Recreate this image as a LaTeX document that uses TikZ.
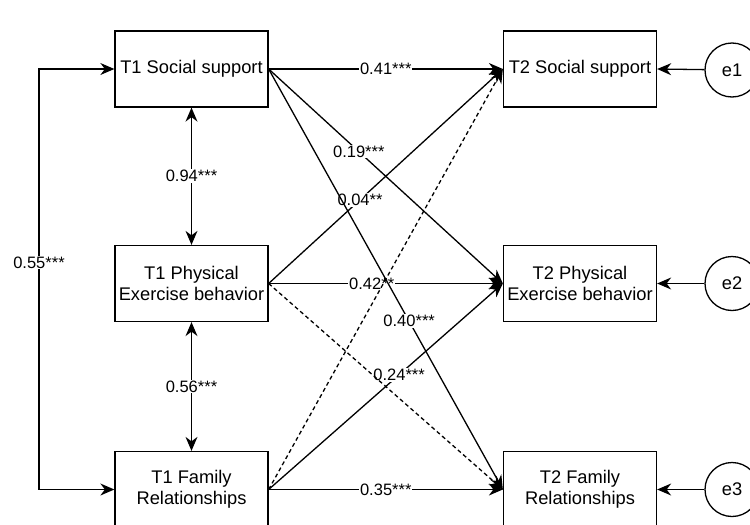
\documentclass[tikz,border=0pt]{standalone}
\usepackage{fontspec}
\setmainfont{Liberation Sans}
\usetikzlibrary{arrows.meta}
\begin{document}
\begin{tikzpicture}[x=1pt,y=-1pt,
  line width=1.3pt,
  var/.style={draw, rectangle, minimum width=153pt, minimum height=76pt, inner sep=0pt,
    align=center, font=\fontsize{18.3}{21}\selectfont},
  err/.style={draw, circle, minimum size=54pt, inner sep=0pt, font=\fontsize{18.3}{21}\selectfont},
  tip/.style={Stealth[length=14pt,width=12pt,inset=4.5pt]},
  path/.style={-{Stealth[length=14pt,width=12pt,inset=4.5pt]}},
  cov/.style={{Stealth[length=14pt,width=12pt,inset=4.5pt]}-{Stealth[length=14pt,width=12pt,inset=4.5pt]}},
  ns/.style={path, dash pattern=on 4pt off 3pt},
  coef/.style={fill=white, inner sep=1pt, font=\fontsize{16.5}{18}\selectfont}]
\clip (0,0) rectangle (750,525);
\fill[white] (0,0) rectangle (750,525);

% Time 1 variables
\node[var] (s1) at (191.5,69) {T1 Social support};
\node[var] (p1) at (191.5,283.5) {T1 Physical\\Exercise behavior};
\node[var] (f1) at (191.5,489.5) {T1 Family\\Relationships};

% Time 2 variables
\node[var] (s2) at (580,69) {T2 Social support};
\node[var] (p2) at (580,283.5) {T2 Physical\\Exercise behavior};
\node[var] (f2) at (580,489.5) {T2 Family\\Relationships};

% Residuals
\node[err] (e1) at (732,70) {e1};
\node[err] (e2) at (732,283.5) {e2};
\node[err] (e3) at (732,489.5) {e3};
\draw[path] (e1) -- (s2.east);
\draw[path] (e2) -- (p2.east);
\draw[path] (e3) -- (f2.east);

% Correlations among T1 variables
\coordinate (lx) at (39,0);
\draw[cov] (s1.west) -- (s1.west -| lx) -- node[coef, pos=0.46] {0.55***} (f1.west -| lx) -- (f1.west);
\draw[cov] (s1.south) -- node[coef] {0.94***} (p1.north);
\draw[cov] (p1.south) -- node[coef] {0.56***} (f1.north);

% Autoregressive paths
\draw[path] (s1.east) -- node[coef] {0.41***} (s2.west);
\draw[path] (p1.east) -- node[coef, pos=0.44] {0.42**} (p2.west);
\draw[path] (f1.east) -- node[coef] {0.35***} (f2.west);

% Cross-lagged paths
\draw[path] (s1.east) -- node[coef, pos=0.385] {0.19***} (p2.west);
\draw[path] (p1.east) -- node[coef, pos=0.39] {0.04**} (s2.west);
\draw[path] (f1.east) -- node[coef, pos=0.557] {0.24***} (p2.west);
\draw[path] (s1.east) -- node[coef, pos=0.60] {0.40***} (f2.west);
\draw[ns] (p1.east) -- (f2.west);
\draw[ns] (f1.east) -- (s2.west);
\end{tikzpicture}
\end{document}
